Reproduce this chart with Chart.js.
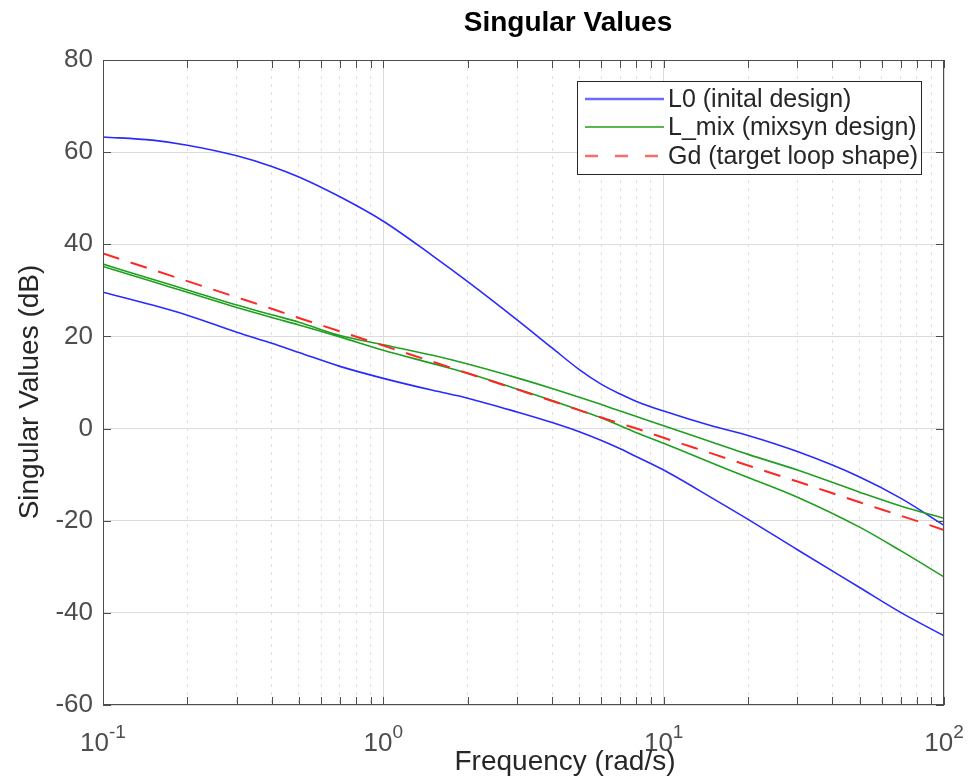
<!DOCTYPE html>
<html>
<head>
<meta charset="utf-8">
<title>Singular Values</title>
<script src="https://cdn.jsdelivr.net/npm/chart.js@4/dist/chart.umd.min.js"></script>
<style>
  html, body { margin: 0; padding: 0; background: #fff; }
  #wrap { width: 969px; height: 783px; }
</style>
</head>
<body>
<div id="wrap"><canvas id="chart" width="969" height="783"></canvas></div>
<script>
const freq = [0.1, 0.15, 0.2, 0.3, 0.4, 0.5, 0.7, 1, 1.5, 2, 3, 4, 5, 6, 7, 8, 10, 15, 20, 30, 50, 70, 100];

// singular values in dB
const l0Max  = [63.3, 62.6, 61.5, 59.2, 56.9, 54.6, 50.3, 45.0, 37.5, 31.9, 23.6, 17.5, 12.8, 9.6, 7.5, 5.9, 3.8, 0.5, -1.5, -5.0, -10.5, -15.1, -21.0];
const l0Min  = [29.6, 26.8, 24.6, 20.9, 18.5, 16.5, 13.5, 10.9, 8.3, 6.6, 3.6, 1.3, -0.7, -2.6, -4.4, -6.1, -9.0, -15.2, -19.7, -26.3, -34.5, -39.9, -45.0];
const mixMax = [35.7, 32.4, 30.1, 26.8, 24.7, 23.1, 20.2, 18.2, 15.9, 14.0, 11.0, 8.7, 6.8, 5.2, 3.8, 2.6, 0.6, -3.0, -5.6, -9.0, -13.8, -16.8, -19.5];
const mixMin = [35.2, 31.9, 29.6, 26.3, 24.1, 22.5, 19.9, 17.0, 14.1, 12.0, 8.6, 6.1, 4.0, 2.3, 0.6, -0.9, -3.2, -7.6, -10.6, -14.9, -21.4, -26.5, -32.2];
const gdVals = [38.0, 34.5, 32.0, 28.5, 26.0, 24.0, 21.1, 18.0, 14.5, 12.0, 8.5, 6.0, 4.0, 2.4, 1.1, 0.0, -2.0, -5.5, -8.0, -11.5, -16.0, -18.9, -22.0];

// axis ticks
const yTicks = [-60, -40, -20, 0, 20, 40, 60, 80];
const xDecades = [0.1, 1, 10, 100];
const xDecadeExp = ['-1', '0', '1', '2'];
const xMinor = [0.2, 0.3, 0.4, 0.5, 0.6, 0.7, 0.8, 0.9, 2, 3, 4, 5, 6, 7, 8, 9, 20, 30, 40, 50, 60, 70, 80, 90];

const legendLabels = ['L0 (inital design)', 'L_mix (mixsyn design)', 'Gd (target loop shape)'];

const FONT = '"Liberation Sans", Arial, Helvetica, sans-serif';
const AXIS_COLOR = '#4d4d4d';
const TEXT_COLOR = '#262626';
const BLUE = '#2a2aff';
const GREEN = '#1f9f1f';
const RED = '#ff2626';

function isDecade(v) {
    const l = Math.log10(v);
    return Math.abs(l - Math.round(l)) < 1e-6;
}

function toPoints(vals) {
    return freq.map((f, i) => ({ x: f, y: vals[i] }));
}

// inward ticks, box, tick labels with superscripts, labels, title, legend
const decorPlugin = {
    id: 'decor',
    afterDraw(chart) {
        const { ctx, chartArea: a, scales: { x, y } } = chart;
        ctx.save();

        // box
        ctx.strokeStyle = AXIS_COLOR;
        ctx.lineWidth = 1;
        ctx.strokeRect(Math.round(a.left) + 0.5, Math.round(a.top) + 0.5,
            Math.round(a.right - a.left) - 1, Math.round(a.bottom - a.top) - 1);

        // tick marks pointing inward
        const tl = 8;
        ctx.beginPath();
        [...xDecades, ...xMinor].forEach(v => {
            const px = Math.round(x.getPixelForValue(v)) + 0.5;
            ctx.moveTo(px, a.bottom); ctx.lineTo(px, a.bottom - tl);
            ctx.moveTo(px, a.top); ctx.lineTo(px, a.top + tl);
        });
        yTicks.forEach(v => {
            const py = Math.round(y.getPixelForValue(v)) + 0.5;
            ctx.moveTo(a.left, py); ctx.lineTo(a.left + tl, py);
            ctx.moveTo(a.right, py); ctx.lineTo(a.right - tl, py);
        });
        ctx.stroke();

        // x tick labels 10^n
        ctx.fillStyle = AXIS_COLOR;
        ctx.textBaseline = 'alphabetic';
        ctx.textAlign = 'left';
        xDecades.forEach((v, i) => {
            const px = x.getPixelForValue(v);
            ctx.font = '26px ' + FONT;
            const wBase = ctx.measureText('10').width;
            ctx.font = '19px ' + FONT;
            const wExp = ctx.measureText(xDecadeExp[i]).width;
            const x0 = px - (wBase + wExp) / 2;
            ctx.font = '26px ' + FONT;
            ctx.fillText('10', x0, 751);
            ctx.font = '19px ' + FONT;
            ctx.fillText(xDecadeExp[i], x0 + wBase, 738);
        });

        // axis labels
        ctx.fillStyle = TEXT_COLOR;
        ctx.font = '28px ' + FONT;
        ctx.textAlign = 'center';
        ctx.fillText('Frequency (rad/s)', 565, 770);
        ctx.save();
        ctx.translate(38, 392);
        ctx.rotate(-Math.PI / 2);
        ctx.fillText('Singular Values (dB)', 0, 0);
        ctx.restore();

        // title
        ctx.fillStyle = '#000';
        ctx.font = 'bold 28px ' + FONT;
        ctx.fillText('Singular Values', 568, 31);

        // legend
        const lx = 577.5, ly = 81.5, lw = 344, lh = 93;
        ctx.fillStyle = '#fff';
        ctx.fillRect(lx, ly, lw, lh);
        ctx.strokeStyle = TEXT_COLOR;
        ctx.lineWidth = 1;
        ctx.strokeRect(lx, ly, lw, lh);
        const rows = [99, 127, 156];
        const styles = [
            { color: '#6b6bff', width: 2.5, dash: [] },
            { color: GREEN, width: 1.5, dash: [] },
            { color: '#ff6b6b', width: 2.5, dash: [13, 17] }
        ];
        ctx.font = '25px ' + FONT;
        ctx.textAlign = 'left';
        ctx.textBaseline = 'middle';
        legendLabels.forEach((label, i) => {
            const s = styles[i];
            ctx.beginPath();
            ctx.strokeStyle = s.color;
            ctx.lineWidth = s.width;
            ctx.setLineDash(s.dash);
            ctx.moveTo(585, rows[i]);
            ctx.lineTo(664, rows[i]);
            ctx.stroke();
            ctx.setLineDash([]);
            ctx.fillStyle = TEXT_COLOR;
            ctx.fillText(label, 668, rows[i] + 1);
        });

        ctx.restore();
    }
};

const lineStyle = {
    pointRadius: 0,
    fill: false,
    cubicInterpolationMode: 'monotone'
};

new Chart(document.getElementById('chart').getContext('2d'), {
    type: 'line',
    data: {
        datasets: [
            { ...lineStyle, label: 'L0 max', data: toPoints(l0Max), borderColor: BLUE, borderWidth: 1.6, order: 2 },
            { ...lineStyle, label: 'L0 min', data: toPoints(l0Min), borderColor: BLUE, borderWidth: 1.6, order: 2 },
            { ...lineStyle, label: 'L_mix max', data: toPoints(mixMax), borderColor: GREEN, borderWidth: 1.6, order: 1 },
            { ...lineStyle, label: 'L_mix min', data: toPoints(mixMin), borderColor: GREEN, borderWidth: 1.6, order: 1 },
            { ...lineStyle, label: 'Gd', data: toPoints(gdVals), borderColor: RED, borderWidth: 2, borderDash: [17, 12], order: 0 }
        ]
    },
    options: {
        responsive: false,
        animation: false,
        devicePixelRatio: 1,
        layout: { padding: { left: 0, right: 25, top: 60, bottom: 0 } },
        plugins: {
            legend: { display: false },
            title: { display: false },
            tooltip: { enabled: false }
        },
        scales: {
            x: {
                type: 'logarithmic',
                min: 0.1,
                max: 100,
                afterBuildTicks: scale => {
                    scale.ticks = [...xDecades, ...xMinor].sort((p, q) => p - q).map(v => ({ value: v, major: isDecade(v) }));
                },
                afterFit: scale => { scale.height = 78; },
                ticks: { display: false },
                grid: {
                    drawTicks: false,
                    lineWidth: 1,
                    color: c => (c.tick && !isDecade(c.tick.value)) ? '#dedede' : '#dcdcdc'
                },
                border: {
                    display: false,
                    dash: c => (c.tick && !isDecade(c.tick.value)) ? [3, 5] : []
                }
            },
            y: {
                type: 'linear',
                min: -60,
                max: 80,
                afterFit: scale => { scale.width = 103; },
                ticks: {
                    stepSize: 20,
                    color: AXIS_COLOR,
                    padding: 10,
                    font: { family: FONT, size: 26 }
                },
                grid: { drawTicks: false, color: '#dcdcdc', lineWidth: 1 },
                border: { display: false }
            }
        }
    },
    plugins: [decorPlugin]
});
</script>
</body>
</html>
